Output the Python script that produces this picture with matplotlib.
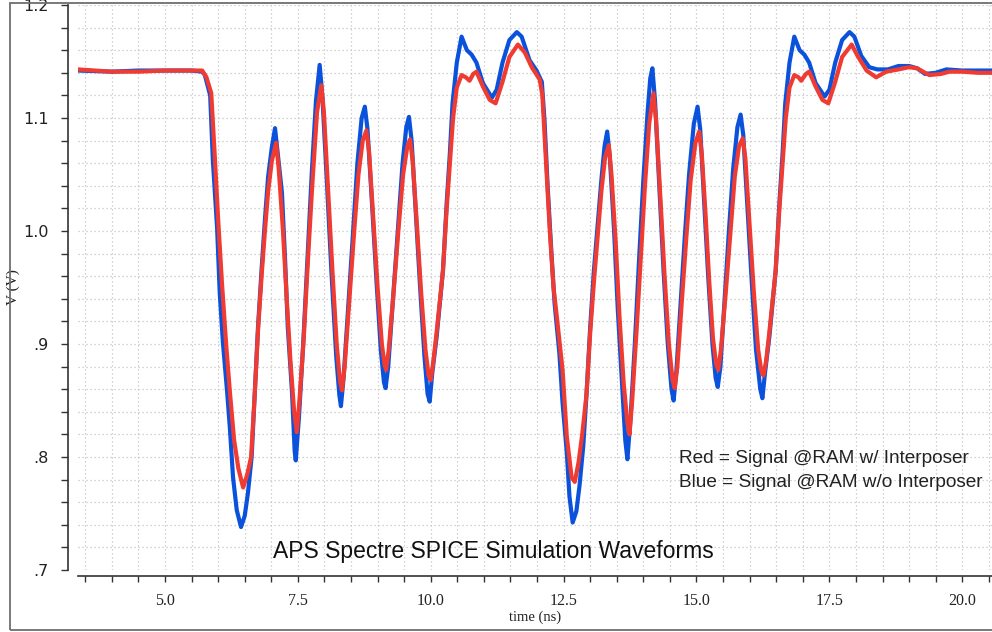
import matplotlib
matplotlib.use("Agg")
import matplotlib.pyplot as plt
from matplotlib.ticker import MultipleLocator, FixedLocator, FixedFormatter
from matplotlib.patches import Rectangle

# ---------------- data ----------------
t_blue = [3.36, 4.0, 4.5, 5.0, 5.5, 5.70, 5.75, 5.85, 5.90, 5.98, 6.03, 6.09, 6.17, 6.22, 6.28, 6.35, 6.43,
          6.50, 6.56, 6.63, 6.69, 6.75, 6.82, 6.88, 6.94, 7.01, 7.07,
          7.12, 7.20, 7.26, 7.31, 7.39, 7.44, 7.46,
          7.52, 7.60, 7.68, 7.76, 7.84, 7.91,
          7.96, 8.05, 8.13, 8.22, 8.28, 8.31,
          8.36, 8.45, 8.54, 8.62, 8.70, 8.76,
          8.81, 8.90, 8.98, 9.06, 9.12, 9.15,
          9.20, 9.29, 9.38, 9.47, 9.54, 9.59,
          9.64, 9.72, 9.80, 9.88, 9.94, 9.98,
          10.03, 10.11, 10.23, 10.30, 10.36, 10.41, 10.49, 10.58, 10.68, 10.77, 10.86, 10.98, 11.15, 11.24,
          11.35, 11.48, 11.62, 11.71, 11.86, 11.99, 12.09, 12.14, 12.20, 12.27, 12.33, 12.42, 12.48, 12.56,
          12.61, 12.67,
          12.74, 12.80, 12.87, 12.93, 13.00, 13.07, 13.14, 13.21, 13.27, 13.32,
          13.37, 13.45, 13.52, 13.60, 13.66, 13.70,
          13.76, 13.84, 13.92, 14.00, 14.08, 14.13, 14.17,
          14.22, 14.30, 14.38, 14.46, 14.53, 14.57,
          14.62, 14.70, 14.78, 14.86, 14.95, 15.02,
          15.07, 15.14, 15.22, 15.30, 15.36, 15.40,
          15.45, 15.53, 15.61, 15.69, 15.77, 15.83,
          15.88, 15.96, 16.04, 16.12, 16.20, 16.24,
          16.29, 16.37, 16.49, 16.56, 16.62, 16.67, 16.75, 16.84, 16.94, 17.03, 17.12, 17.24, 17.41, 17.50,
          17.61, 17.74, 17.88, 17.97, 18.10, 18.25, 18.40, 18.60, 18.80, 19.00, 19.15, 19.30, 19.50, 19.70,
          20.00, 20.30, 20.56]
v_blue = [1.142, 1.141, 1.142, 1.142, 1.142, 1.141, 1.138, 1.120, 1.063, 1.003, 0.945, 0.901, 0.857, 0.826, 0.782, 0.753, 0.738,
          0.748, 0.768, 0.800, 0.857, 0.915, 0.968, 1.010, 1.048, 1.074, 1.091,
          1.069, 1.034, 0.974, 0.915, 0.857, 0.805, 0.797,
          0.835, 0.900, 0.975, 1.050, 1.115, 1.147,
          1.120, 1.040, 0.965, 0.890, 0.855, 0.845,
          0.870, 0.935, 1.000, 1.060, 1.100, 1.110,
          1.090, 1.020, 0.955, 0.895, 0.866, 0.861,
          0.880, 0.940, 1.000, 1.060, 1.092, 1.101,
          1.080, 1.015, 0.950, 0.890, 0.856, 0.849,
          0.875, 0.906, 0.965, 1.025, 1.069, 1.113, 1.149, 1.172, 1.160, 1.156, 1.149, 1.131, 1.118, 1.125,
          1.149, 1.169, 1.176, 1.172, 1.151, 1.142, 1.132, 1.098, 1.039, 0.981, 0.936, 0.892, 0.848, 0.804,
          0.765, 0.742,
          0.752, 0.775, 0.810, 0.855, 0.915, 0.965, 1.005, 1.045, 1.075, 1.088,
          1.065, 1.000, 0.930, 0.865, 0.815, 0.798,
          0.835, 0.900, 0.975, 1.045, 1.105, 1.135, 1.144,
          1.115, 1.040, 0.965, 0.900, 0.860, 0.850,
          0.875, 0.935, 0.995, 1.050, 1.095, 1.110,
          1.090, 1.030, 0.960, 0.900, 0.870, 0.862,
          0.880, 0.940, 1.000, 1.055, 1.092, 1.103,
          1.085, 1.020, 0.955, 0.895, 0.860, 0.852,
          0.875, 0.906, 0.965, 1.025, 1.069, 1.113, 1.149, 1.172, 1.160, 1.156, 1.149, 1.131, 1.119, 1.125,
          1.149, 1.169, 1.176, 1.172, 1.155, 1.145, 1.143, 1.143, 1.146, 1.146, 1.144, 1.139, 1.140, 1.143,
          1.142, 1.142, 1.142]

t_red = [3.36, 4.0, 4.5, 5.0, 5.5, 5.70, 5.78, 5.87, 5.94, 6.00, 6.07, 6.15, 6.22, 6.30, 6.38, 6.47,
         6.55, 6.62, 6.69, 6.75, 6.82, 6.88, 6.94, 7.01, 7.09,
         7.14, 7.22, 7.29, 7.36, 7.43, 7.48,
         7.53, 7.61, 7.69, 7.77, 7.86, 7.94,
         7.99, 8.07, 8.15, 8.23, 8.29, 8.33,
         8.38, 8.47, 8.56, 8.64, 8.72, 8.79,
         8.84, 8.92, 9.00, 9.08, 9.13, 9.16,
         9.21, 9.30, 9.39, 9.48, 9.56, 9.61,
         9.66, 9.74, 9.82, 9.90, 9.96, 10.00,
         10.05, 10.11, 10.23, 10.30, 10.36, 10.42, 10.49, 10.58, 10.66, 10.73, 10.80, 10.86, 10.98, 11.11,
         11.22, 11.35, 11.48, 11.64, 11.77, 11.90, 12.05, 12.10, 12.17, 12.24, 12.31, 12.37, 12.48, 12.56,
         12.65, 12.71, 12.78, 12.85, 12.93, 13.00, 13.07, 13.14, 13.21, 13.28, 13.35,
         13.40, 13.48, 13.55, 13.63, 13.70, 13.74,
         13.79, 13.87, 13.95, 14.03, 14.11, 14.19,
         14.24, 14.32, 14.40, 14.48, 14.55, 14.59,
         14.64, 14.72, 14.81, 14.89, 14.98, 15.05,
         15.10, 15.17, 15.24, 15.31, 15.37, 15.41,
         15.46, 15.55, 15.64, 15.72, 15.80, 15.87,
         15.92, 16.00, 16.08, 16.16, 16.22, 16.26,
         16.31, 16.37, 16.49, 16.56, 16.62, 16.68, 16.75, 16.84, 16.92, 16.97, 17.06, 17.12, 17.24, 17.37,
         17.48, 17.61, 17.74, 17.92, 18.03, 18.20, 18.38, 18.57, 18.80, 19.00, 19.15, 19.38, 19.60, 19.76,
         20.00, 20.30, 20.56]
v_red = [1.143, 1.141, 1.141, 1.142, 1.142, 1.142, 1.136, 1.122, 1.063, 1.010, 0.955, 0.900, 0.858, 0.815, 0.790, 0.773,
         0.785, 0.800, 0.857, 0.912, 0.962, 1.000, 1.035, 1.062, 1.078,
         1.055, 1.000, 0.940, 0.885, 0.840, 0.822,
         0.850, 0.905, 0.975, 1.040, 1.105, 1.129,
         1.105, 1.035, 0.965, 0.900, 0.868, 0.859,
         0.880, 0.940, 1.000, 1.050, 1.080, 1.089,
         1.070, 1.010, 0.950, 0.900, 0.882, 0.877,
         0.895, 0.945, 1.000, 1.050, 1.075, 1.081,
         1.062, 1.005, 0.945, 0.895, 0.872, 0.868,
         0.885, 0.910, 0.965, 1.020, 1.060, 1.100, 1.127, 1.138, 1.136, 1.133, 1.139, 1.141, 1.128, 1.116,
         1.113, 1.132, 1.154, 1.165, 1.158, 1.145, 1.134, 1.120, 1.060, 1.000, 0.950, 0.925, 0.877, 0.818,
         0.782, 0.778, 0.795, 0.820, 0.855, 0.910, 0.955, 0.995, 1.035, 1.065, 1.076,
         1.050, 0.990, 0.925, 0.865, 0.830, 0.820,
         0.850, 0.910, 0.975, 1.040, 1.095, 1.122,
         1.098, 1.030, 0.960, 0.900, 0.868, 0.861,
         0.880, 0.935, 0.995, 1.045, 1.078, 1.088,
         1.068, 1.015, 0.955, 0.905, 0.882, 0.877,
         0.895, 0.945, 1.000, 1.048, 1.075, 1.082,
         1.064, 1.005, 0.945, 0.895, 0.876, 0.872,
         0.885, 0.910, 0.965, 1.020, 1.060, 1.100, 1.127, 1.138, 1.136, 1.133, 1.139, 1.141, 1.128, 1.116,
         1.113, 1.132, 1.154, 1.165, 1.155, 1.142, 1.136, 1.141, 1.143, 1.145, 1.144, 1.138, 1.139, 1.141,
         1.141, 1.140, 1.140]

x_ticks = [5.0, 7.5, 10.0, 12.5, 15.0, 17.5, 20.0]
x_tick_labels = ["5.0", "7.5", "10.0", "12.5", "15.0", "17.5", "20.0"]
y_ticks = [0.7, 0.8, 0.9, 1.0, 1.1, 1.2]
y_tick_labels = [".7", ".8", ".9", "1.0", "1.1", "1.2"]

title_text = "APS Spectre SPICE Simulation Waveforms"
note_red = "Red = Signal @RAM w/ Interposer"
note_blue = "Blue = Signal @RAM w/o Interposer"

# ---------------- figure ----------------
W, H = 992, 632
fig = plt.figure(figsize=(W / 100, H / 100), dpi=100)
ax = fig.add_axes([78 / W, 62 / H, 914 / W, 565 / H])

ax.plot(t_blue, v_blue, color="#0a52dc", lw=3.0, solid_joinstyle="round", zorder=3)
ax.plot(t_red, v_red, color="#ef3b32", lw=3.0, solid_joinstyle="round", zorder=4)

ax.set_xlim(3.363, 20.56)
ax.set_ylim(0.7, 1.2)

for s in ("top", "right"):
    ax.spines[s].set_visible(False)
ax.spines["left"].set_position(("outward", 7.2))
ax.spines["bottom"].set_position(("outward", 4.3))
for s in ("left", "bottom"):
    ax.spines[s].set_color("#333333")
    ax.spines[s].set_linewidth(1.2)

ax.xaxis.set_major_locator(FixedLocator(x_ticks))
ax.xaxis.set_major_formatter(FixedFormatter(x_tick_labels))
ax.xaxis.set_minor_locator(MultipleLocator(0.5))
ax.yaxis.set_major_locator(FixedLocator(y_ticks))
ax.yaxis.set_major_formatter(FixedFormatter(y_tick_labels))
ax.yaxis.set_minor_locator(MultipleLocator(0.02))

ax.tick_params(axis="x", which="both", direction="out", length=4.5, width=1.0, color="#333333",
               pad=8, labelsize=11.5, labelcolor="#222222")
ax.tick_params(axis="y", which="both", direction="out", length=5, width=1.0, color="#333333",
               pad=9, labelsize=11.5, labelcolor="#222222")
for lab in ax.get_xticklabels():
    lab.set_family("Liberation Serif")
for lab in ax.get_yticklabels():
    lab.set_family("DejaVu Sans")

ax.grid(which="both", color="#c4c4c4", linestyle=(0, (1, 2.2)), linewidth=0.9)
ax.set_axisbelow(True)

ax.set_xlabel("time (ns)", family="Liberation Serif", fontsize=10.5, color="#222222", labelpad=1)
ax.set_ylabel("V (V)", family="Liberation Serif", fontsize=11, color="#222222", va="center")
ax.yaxis.set_label_coords(-0.0711, 0.5)

ax.text(0.455, 0.032, title_text, transform=ax.transAxes, ha="center", va="center",
        family="Liberation Sans", fontsize=16.5, color="#111111")
ax.text(0.6575, 0.198, note_red, transform=ax.transAxes, ha="left", va="center",
        family="Liberation Sans", fontsize=13.7, color="#222222")
ax.text(0.6575, 0.154, note_blue, transform=ax.transAxes, ha="left", va="center",
        family="Liberation Sans", fontsize=13.7, color="#222222")

# window frame
fig.add_artist(Rectangle((10 / W, 2 / H), 1.0, (627 / H), transform=fig.transFigure,
                         fill=False, edgecolor="#6e6e6e", linewidth=1.3, clip_on=False))

fig.savefig("out.png", dpi=100)
